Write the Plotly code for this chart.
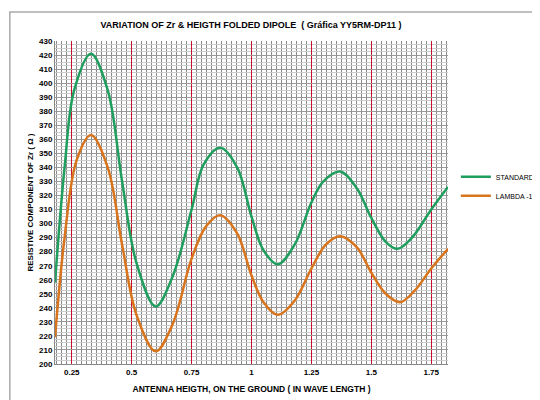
import plotly.graph_objects as go

x_std = [0.18,0.22,0.26,0.33,0.40,0.46,0.52,0.60,0.67,0.75,0.80,0.87,0.94,1.0,1.05,1.11,1.18,1.25,1.30,1.37,1.44,1.50,1.56,1.61,1.67,1.75,1.82]
y_std = [258,340,395,421,395,330,272,241,262,310,342,354,340,305,281,271,285,315,330,337,325,304,287,282,290,310,326]
x_lam = [0.18,0.22,0.27,0.33,0.40,0.46,0.52,0.60,0.67,0.75,0.81,0.87,0.94,1.0,1.05,1.11,1.18,1.25,1.31,1.37,1.44,1.50,1.56,1.62,1.68,1.75,1.82]
y_lam = [219,290,345,363,340,285,235,209,228,275,298,306,293,263,244,235,245,268,285,291,283,265,250,244,252,268,282]
x_ticks = [0.25,0.5,0.75,1,1.25,1.5,1.75]

fig = go.Figure()
fig.add_trace(go.Scatter(x=x_std, y=y_std, mode="lines", name="STANDARD",
                         line=dict(color="#1f9e5e", width=2.5, shape="spline")))
fig.add_trace(go.Scatter(x=x_lam, y=y_lam, mode="lines", name="LAMBDA -10%",
                         line=dict(color="#d8741c", width=2.5, shape="spline")))
font = dict(family="Liberation Sans, Arial", size=8, color="black")
fig.update_layout(
    width=540, height=400, paper_bgcolor="white", plot_bgcolor="white",
    margin=dict(l=47, r=100, t=33, b=44, autoexpand=False),
    title=dict(text="<b>VARIATION OF Zr & HEIGTH FOLDED DIPOLE  ( Gráfica YY5RM-DP11 )</b>",
               x=0.45, xanchor="center", y=0.965, font=dict(family="Liberation Sans, Arial", size=9, color="black")),
    showlegend=True,
    legend=dict(x=1.02, y=0.55, xanchor="left", yanchor="middle", font=dict(family="Liberation Sans, Arial", size=7, color="black"),
                bgcolor="rgba(0,0,0,0)"),
    font=font,
    shapes=[dict(type="rect", xref="paper", yref="paper", x0=-0.115, x1=1.255, y0=-0.135, y1=1.09,
                 line=dict(color="#aaaaaa", width=1.5))],
)
fig.update_xaxes(range=[0.18, 1.82], tickmode="array", tickvals=x_ticks,
                 ticktext=[f"<b>{t}</b>" for t in x_ticks], automargin=False,
                 showgrid=True, gridcolor="#c8102e", gridwidth=1.2,
                 minor=dict(dtick=0.25/12, tick0=0.25, showgrid=True, gridcolor="#888888", gridwidth=0.5),
                 zeroline=False, showline=True, linecolor="#888888", ticks="",
                 title=dict(text="<b>ANTENNA HEIGTH, ON THE GROUND ( IN WAVE LENGTH )</b>", font=dict(size=8.5), standoff=10))
fig.update_yaxes(range=[200, 430], dtick=10, tickformat="d", automargin=False,
                 showgrid=True, gridcolor="#999999", gridwidth=0.5,
                 minor=dict(dtick=2.5, showgrid=True, gridcolor="#cccccc", gridwidth=0.5),
                 zeroline=False, showline=True, linecolor="#888888", ticks="",
                 tickprefix="<b>", ticksuffix="</b>",
                 title=dict(text="<b>RESISTIVE COMPONENT OF Zr ( Ω )</b>", font=dict(size=8), standoff=4))
fig.write_html("out.html")
